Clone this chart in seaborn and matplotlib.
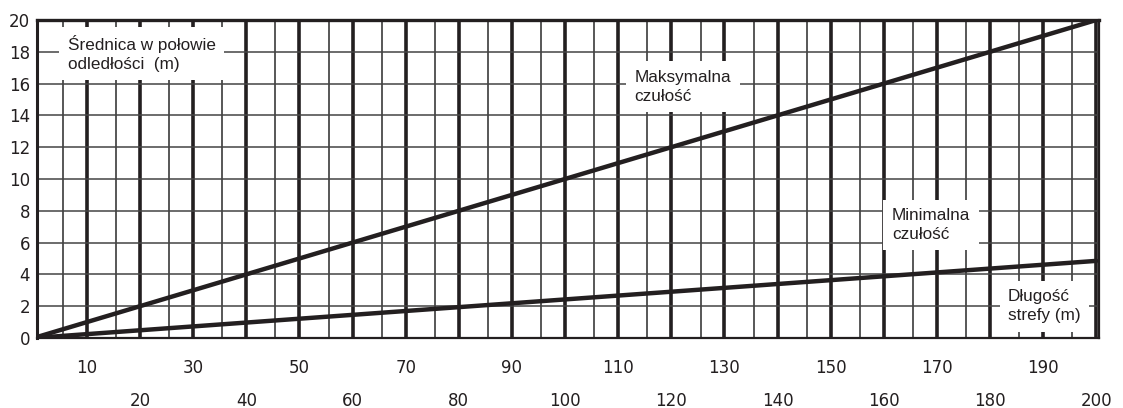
import numpy as np
import pandas as pd
import seaborn as sns
from matplotlib import pyplot as plt

# distance (m) vs zone diameter at half distance (m)
distance = [0, 200]
max_sens = [0, 20]
min_sens = [0, 4.85]

odd_ticks = list(range(10, 200, 20))
even_ticks = list(range(20, 201, 20))
y_ticks = list(range(0, 21, 2))
thin_x = [5.5 + 10 * k for k in range(20)]

df = pd.DataFrame({'dist': distance * 2,
                   'diam': max_sens + min_sens,
                   'curve': ['max'] * 2 + ['min'] * 2})

sns.set_style('white')
plt.rcParams['font.family'] = ['DejaVu Sans']
ink = '#231f20'

fig = plt.figure(figsize=(11.23, 4.08), dpi=100)
ax = fig.add_axes([0.0329, 0.1716, 0.9457, 0.7794])

sns.lineplot(data=df, x='dist', y='diam', hue='curve', palette=[ink, ink],
             linewidth=3.2, legend=False, ax=ax, zorder=5)

ax.set_xlim(0.6, 200.5)
ax.set_ylim(0, 20)
ax.set_xlabel('')
ax.set_ylabel('')

# grid: thick verticals every 10, thin between, thin horizontals every 2
ax.set_xticks(list(range(10, 201, 10)))
ax.set_xticks(thin_x, minor=True)
ax.set_xticklabels([str(t) if t in odd_ticks else '' for t in range(10, 201, 10)])
ax.set_yticks(y_ticks)
ax.grid(which='major', axis='x', color=ink, linewidth=2.6)
ax.grid(which='minor', axis='x', color='#2a2a2a', linewidth=1.1)
ax.grid(which='major', axis='y', color='#444444', linewidth=1.1)
ax.tick_params(which='both', length=0)
ax.tick_params(axis='x', which='major', pad=15, labelsize=12, labelcolor=ink)
ax.tick_params(axis='y', pad=5, labelsize=12, labelcolor=ink)

sec = ax.secondary_xaxis('bottom')
sec.set_xticks(even_ticks)
sec.tick_params(length=0, pad=39, labelsize=12, labelcolor=ink)
sec.spines['bottom'].set_visible(False)

for side, lw in [('top', 2.4), ('left', 2.2), ('bottom', 1.6), ('right', 1.6)]:
    ax.spines[side].set_visible(True)
    ax.spines[side].set_color(ink)
    ax.spines[side].set_linewidth(lw)

box = dict(facecolor='white', edgecolor='none', boxstyle='square,pad=0.5')
txt = dict(fontsize=12.3, family=['Liberation Sans', 'DejaVu Sans'], color=ink,
           va='center', ha='left', bbox=box, zorder=4, linespacing=1.3)
ax.text(6.4, 17.9, 'Średnica w połowie\nodledłości  (m)', **txt)
ax.text(113.1, 15.8, 'Maksymalna\nczułość', **txt)
ax.text(161.5, 7.1, 'Minimalna\nczułość', **txt)
ax.text(183.4, 2.0, 'Długość\nstrefy (m)', **txt)

fig.savefig('out.png', dpi=100)
